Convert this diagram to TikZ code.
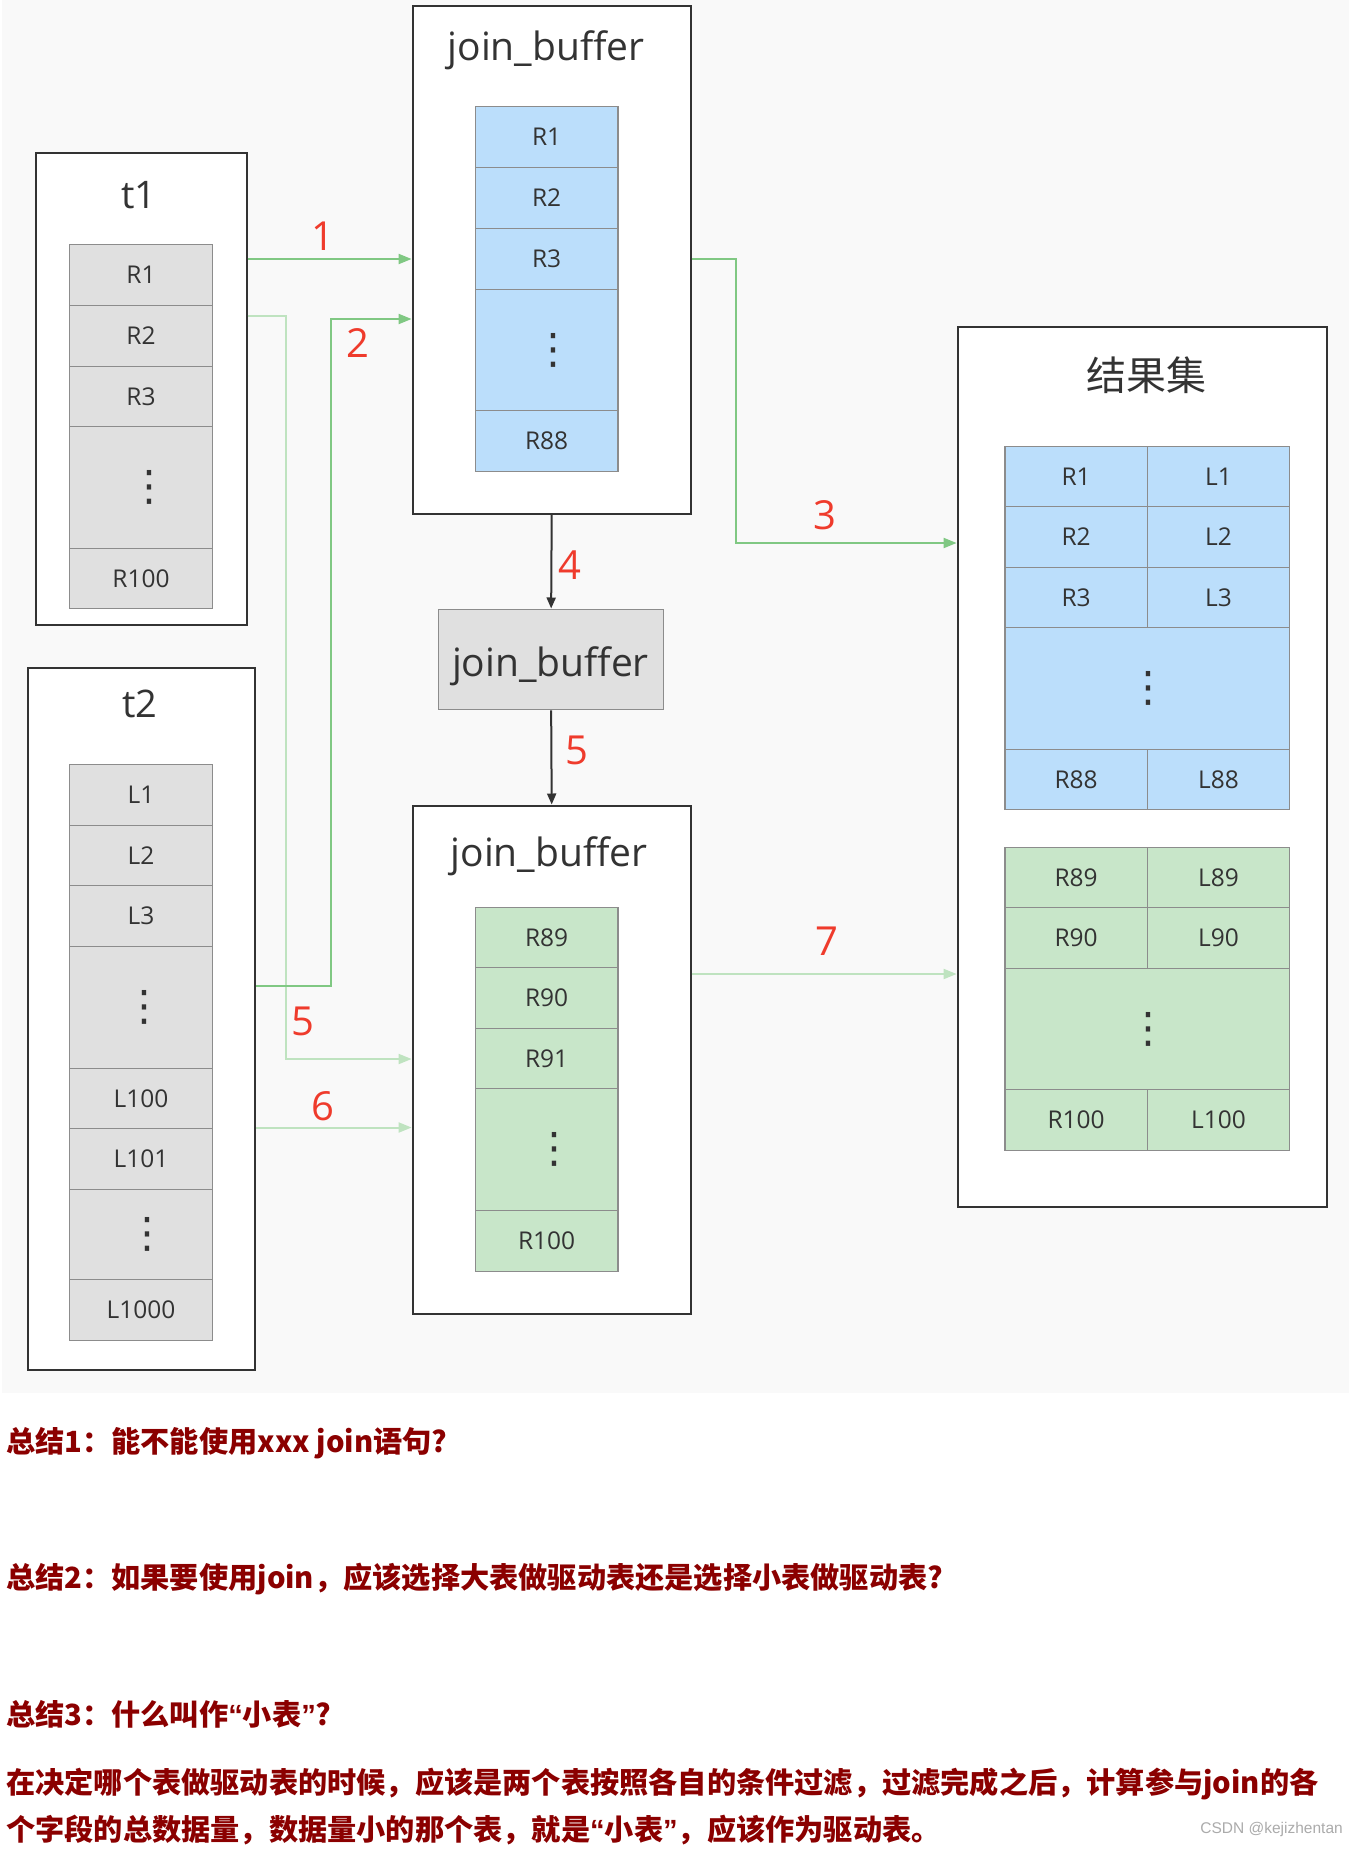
\documentclass[tikz,border=0pt]{standalone}
\usepackage{fontspec}
\setmainfont{Open Sans}
\newfontfamily\cjk{Noto Sans CJK SC}
\newfontfamily\dvfont{DejaVu Sans}
\newfontfamily\wmfont{Liberation Sans}
\newfontfamily\latq{Liberation Sans}
\usetikzlibrary{arrows.meta}
\definecolor{bgc}{HTML}{F9F9F9}
\definecolor{boxline}{HTML}{333333}
\definecolor{cellline}{HTML}{8C8C8C}
\definecolor{cellgray}{HTML}{E0E0E0}
\definecolor{cellblue}{HTML}{BBDEFB}
\definecolor{cellgreen}{HTML}{C8E6C9}
\definecolor{gdark}{HTML}{80C883}
\definecolor{glight}{HTML}{BFE3C0}
\definecolor{redlab}{HTML}{EF3B2C}
\definecolor{txt}{HTML}{333333}
\definecolor{darkred}{HTML}{8B0000}
\definecolor{wmc}{HTML}{ABABAB}
\newcommand\mydots[1]{\hspace*{#1pt}{\dvfont\fontsize{42}{42}\selectfont ⋮}}
\newcommand\myLq{{\latq\bfseries “}}
\newcommand\myRq{{\latq\bfseries ”}}
\tikzset{
  bigbox/.style={draw=boxline, line width=2.2pt, fill=white, inner sep=0pt, anchor=north west},
  titlesty/.style={text=txt, inner sep=0pt, font=\fontsize{39}{39}\selectfont},
  cellsty/.style={draw=cellline, line width=1.2pt, inner sep=0pt, anchor=north west, text=txt, font=\fontsize{24.5}{24.5}\selectfont},
  gcell/.style={cellsty, fill=cellgray, minimum width=142.8pt},
  bcell/.style={cellsty, fill=cellblue, minimum width=142.8pt},
  ncell/.style={cellsty, fill=cellgreen, minimum width=142.8pt},
  rbcell/.style={cellsty, fill=cellblue, minimum width=142.4pt},
  rncell/.style={cellsty, fill=cellgreen, minimum width=142.4pt},
  lab/.style={text=redlab, inner sep=0pt, font=\fontsize{40}{40}\selectfont},
  garrow/.style={draw=gdark, line width=2pt, -{Triangle[length=13pt,width=10pt]}},
  larrow/.style={draw=glight, line width=2pt, -{Triangle[length=13pt,width=10pt]}},
  barrow/.style={draw=boxline, line width=2pt, -{Triangle[length=11pt,width=9pt]}},
  sumtxt/.style={anchor=base west, inner sep=0pt, text=darkred, font=\cjk\bfseries\fontsize{29.2}{29.2}\selectfont},
}
\begin{document}
\begin{tikzpicture}[x=1pt,y=-1pt]
\useasboundingbox (0,0) rectangle (1355,1849);
\fill[white] (0,0) rectangle (1355,1849);
\fill[bgc] (2,0) rectangle (1349,1393);

% boxes
\node[bigbox, minimum width=210.5pt, minimum height=472pt] (t1) at (35,152) {};
\node[bigbox, minimum width=227pt, minimum height=702pt] (t2) at (27,667) {};
\node[bigbox, minimum width=278pt, minimum height=508pt] (jb1) at (411.6,5) {};
\node[bigbox, minimum width=278pt, minimum height=508.5pt] (jb3) at (411.6,804.5) {};
\node[bigbox, minimum width=369.2pt, minimum height=880pt] (res) at (956.6,325.5) {};
\node[draw=cellline, line width=1.3pt, fill=cellgray, inner sep=0pt, anchor=north west,
      minimum width=225pt, minimum height=100.5pt] (jb2) at (438,608.5) {};

% titles
\node[titlesty, font=\fontsize{38}{38}\selectfont] (t1t) at (139,195) {t1};
\node[titlesty, font=\fontsize{38}{38}\selectfont] (t2t) at (140,704) {t2};
\node[titlesty] (jb1t) at (546,50) {join\_buffer};
\node[titlesty] (jb2t) at (550.5,666) {join\_buffer};
\node[titlesty] (jb3t) at (549,856) {join\_buffer};
\node[titlesty, font=\cjk\fontsize{40}{40}\selectfont] (rest) at (1146.5,375) {结果集};

% t1 table
\node[gcell, minimum height=61pt] (t1a) at (69,244) {R1};
\node[gcell, minimum height=61pt] (t1b) at (69,305) {R2};
\node[gcell, minimum height=60pt] (t1c) at (69,366) {R3};
\node[gcell, minimum height=122pt] (t1d) at (69,426) {\mydots{16}};
\node[gcell, minimum height=60pt] (t1e) at (69,548) {R100};

% t2 table
\node[gcell, minimum height=61pt] (t2a) at (69,764) {L1};
\node[gcell, minimum height=60pt] (t2b) at (69,825) {L2};
\node[gcell, minimum height=61pt] (t2c) at (69,885) {L3};
\node[gcell, minimum height=122pt] (t2d) at (69,946) {\mydots{6}};
\node[gcell, minimum height=60pt] (t2e) at (69,1068) {L100};
\node[gcell, minimum height=61pt] (t2f) at (69,1128) {L101};
\node[gcell, minimum height=90pt] (t2g) at (69,1189) {\mydots{12}};
\node[gcell, minimum height=61pt] (t2h) at (69,1279) {L1000};

% join_buffer 1 (blue)
\node[bcell, minimum height=61pt] (b1a) at (474.6,106) {R1};
\node[bcell, minimum height=61pt] (b1b) at (474.6,167) {R2};
\node[bcell, minimum height=61pt] (b1c) at (474.6,228) {R3};
\node[bcell, minimum height=121pt] (b1d) at (474.6,289) {\mydots{14}};
\node[bcell, minimum height=60.5pt] (b1e) at (474.6,410) {R88};

% join_buffer 3 (green)
\node[ncell, minimum height=60.5pt] (b3a) at (474.6,906.5) {R89};
\node[ncell, minimum height=60.5pt] (b3b) at (474.6,967) {R90};
\node[ncell, minimum height=60.5pt] (b3c) at (474.6,1027.5) {R91};
\node[ncell, minimum height=122pt] (b3d) at (474.6,1088) {\mydots{15}};
\node[ncell, minimum height=60.6pt] (b3e) at (474.6,1210) {R100};

% result blue
\node[rbcell, minimum height=60.5pt] (ra1) at (1004.3,445.5) {R1};
\node[rbcell, minimum height=60.5pt] (ra2) at (1146.7,445.5) {L1};
\node[rbcell, minimum height=60.7pt] (rb1) at (1004.3,506) {R2};
\node[rbcell, minimum height=60.7pt] (rb2) at (1146.7,506) {L2};
\node[rbcell, minimum height=60.3pt] (rc1) at (1004.3,566.7) {R3};
\node[rbcell, minimum height=60.3pt] (rc2) at (1146.7,566.7) {L3};
\node[rbcell, minimum width=284.8pt, minimum height=121.5pt] (rd) at (1004.3,627) {\mydots{2}};
\node[rbcell, minimum height=60.5pt] (re1) at (1004.3,748.5) {R88};
\node[rbcell, minimum height=60.5pt] (re2) at (1146.7,748.5) {L88};

% result green
\node[rncell, minimum height=60.3pt] (ga1) at (1004.3,846.7) {R89};
\node[rncell, minimum height=60.3pt] (ga2) at (1146.7,846.7) {L89};
\node[rncell, minimum height=61pt] (gb1) at (1004.3,907) {R90};
\node[rncell, minimum height=61pt] (gb2) at (1146.7,907) {L90};
\node[rncell, minimum width=284.8pt, minimum height=121pt] (gc) at (1004.3,968) {\mydots{2}};
\node[rncell, minimum height=61pt] (gd1) at (1004.3,1089) {R100};
\node[rncell, minimum height=61pt] (gd2) at (1146.7,1089) {L100};

% connector helper coordinates
\coordinate (p1) at (0,259);
\coordinate (p2) at (0,986);
\coordinate (k2) at (331,319);
\coordinate (k3) at (736.3,543);
\coordinate (p5) at (0,316);
\coordinate (k5) at (286,1059);
\coordinate (p6) at (0,1127.5);
\coordinate (p7) at (0,974);

% connectors
\draw[larrow] (t1.east |- p5) -| (k5) -- (jb3.west |- k5);
\draw[larrow] (t2.east |- p6) -- (jb3.west |- p6);
\draw[larrow] (jb3.east |- p7) -- (res.west |- p7);
\draw[garrow] (t1.east |- p1) -- (jb1.west |- p1);
\draw[garrow] (t2.east |- p2) -| (k2) -- (jb1.west |- k2);
\draw[garrow] (jb1.east |- p1) -| (k3) -- (res.west |- k3);
\draw[barrow] (jb1.south) -- (jb2.north);
\draw[barrow] (jb2.south) -- (jb3.north);

% step labels
\node[lab] (n1) at (322.7,236) {1};
\node[lab] (n2) at (357.6,343) {2};
\node[lab] (n3) at (825,515) {3};
\node[lab] (n4) at (570,564.7) {4};
\node[lab] (n5a) at (577,750.5) {5};
\node[lab] (n5b) at (303,1021) {5};
\node[lab] (n6) at (323,1106) {6};
\node[lab] (n7) at (826.6,941) {7};

% summary text
\node[sumtxt] (s1) at (6,1452.5) {总结1：能不能使用xxx join语句?};
\node[sumtxt] (s2) at (6,1588) {总结2：如果要使用join，应该选择大表做驱动表还是选择小表做驱动表?};
\node[sumtxt] (s3) at (6,1725) {总结3：什么叫作\myLq 小表\myRq?};
\node[sumtxt] (s4) at (6,1793) {在决定哪个表做驱动表的时候，应该是两个表按照各自的条件过滤，过滤完成之后，计算参与join的各};
\node[sumtxt] (s5) at (6,1840) {个字段的总数据量，数据量小的那个表，就是\myLq 小表\myRq，应该作为驱动表。};
\node[inner sep=0pt, anchor=east, text=wmc, font=\wmfont\fontsize{15.5}{15.5}\selectfont] (wm) at (1343,1829) {CSDN @kejizhentan};
\end{tikzpicture}
\end{document}
